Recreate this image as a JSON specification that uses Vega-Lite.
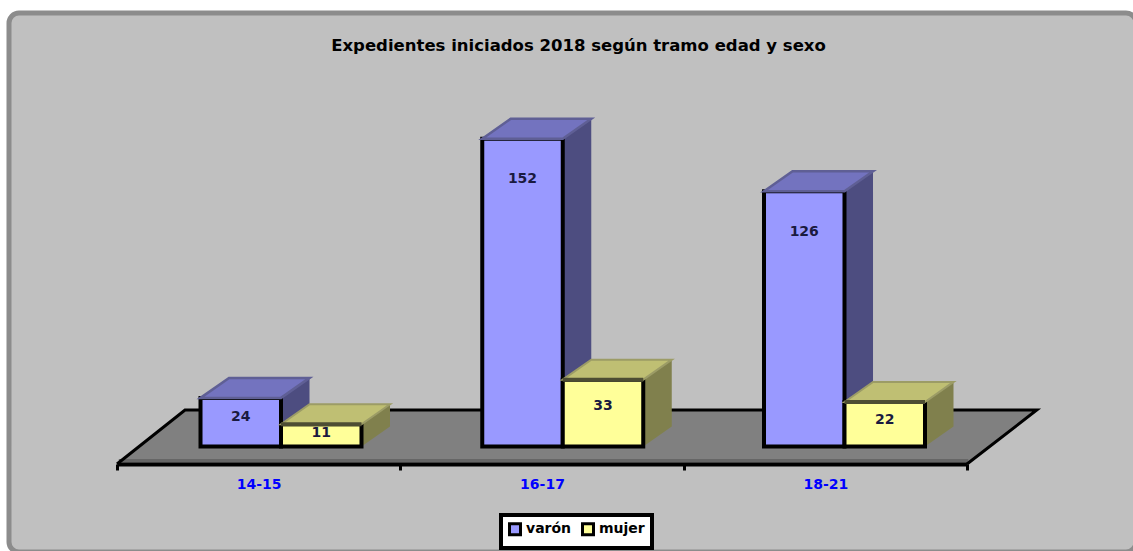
{
"$schema":"https://vega.github.io/schema/vega-lite/v6.json",
"width":1127,"height":539,
"autosize":{"type":"none"},
"padding":{"left":9,"top":13,"right":0,"bottom":0},
"background":"#ffffff",
"config":{"legend":{"strokeWidth":4}},
"view":{"fill":"#c0c0c0","stroke":"#8c8c8c","strokeWidth":5,"cornerRadius":10},
"title":{"text":"Expedientes iniciados 2018 según tramo edad y sexo","font":"DejaVu Sans","fontSize":16.5,"fontWeight":"bold","color":"#000000","anchor":"middle","dx":6,"offset":-41},
"datasets":{
"filas":[
{"tramo":"14-15","sexo":"varón","valor":24},
{"tramo":"14-15","sexo":"mujer","valor":11},
{"tramo":"16-17","sexo":"varón","valor":152},
{"tramo":"16-17","sexo":"mujer","valor":33},
{"tramo":"18-21","sexo":"varón","valor":126},
{"tramo":"18-21","sexo":"mujer","valor":22}
],
"suelo":[
{"u":-0.2963,"alto":-8.64,"bajo":-8.64,"orden":0},
{"u":-0.055,"alto":18,"bajo":-8.64,"orden":1},
{"u":2.7205,"alto":18,"bajo":-8.64,"orden":2},
{"u":2.968,"alto":18,"bajo":18,"orden":3}
],
"borde":[
{"u":-0.2963,"nivel":-8.64,"orden":0},
{"u":-0.055,"nivel":18,"orden":1},
{"u":2.968,"nivel":18,"orden":2},
{"u":2.7205,"nivel":-8.64,"orden":3}
],
"frente":[
{"u":-0.29,"nivel":-6.9},
{"u":2.725,"nivel":-6.9}
]
},
"layer":[
{"data":{"name":"suelo"},"mark":{"type":"area","color":"#808080","orient":"vertical"},
"encoding":{"x":{"field":"u","type":"quantitative","scale":{"domain":[-0.6797,3.3203]},"axis":null},
"y":{"field":"alto","type":"quantitative","scale":{"domain":[-52.1,214.07]},"axis":null,"stack":null},"y2":{"field":"bajo"}}},
{"data":{"name":"frente"},"mark":{"type":"line","color":"#666666","strokeWidth":3},
"encoding":{"x":{"field":"u","type":"quantitative","scale":{"domain":[-0.6797,3.3203]},"axis":null},
"y":{"field":"nivel","type":"quantitative","scale":{"domain":[-52.1,214.07]},"axis":null}}},
{"data":{"name":"borde"},"mark":{"type":"line","color":"#000000","strokeWidth":3},
"encoding":{"x":{"field":"u","type":"quantitative","scale":{"domain":[-0.6797,3.3203]},"axis":null},
"y":{"field":"nivel","type":"quantitative","scale":{"domain":[-52.1,214.07]},"axis":null},"order":{"field":"orden"}}},
{"data":{"name":"filas"},"mark":{"type":"point","opacity":0},
"encoding":{"x":{"field":"tramo","type":"nominal","scale":{"type":"band","range":[108,958],"paddingInner":0,"paddingOuter":0},
"axis":{"title":null,"orient":"bottom","offset":-88,"zindex":1,"labelAngle":0,"domainColor":"#000000","domainWidth":4,"tickColor":"#000000","tickWidth":3,"tickSize":6,"tickBand":"extent","labelColor":"#0000ff","labelFont":"DejaVu Sans","labelFontWeight":"bold","labelFontSize":14,"labelPadding":7}},
"y":{"field":"valor","type":"quantitative","scale":{"domain":[-52.1,214.07]},"axis":null}}},
{"data":{"name":"filas"},
"transform":[{"filter":"datum.sexo==='varón'"},
{"calculate":"indexof(['14-15','16-17','18-21'],datum.tramo)+0.2857","as":"der"},
{"calculate":"[0,1]","as":"p"},{"flatten":["p"]},
{"calculate":"datum.der+datum.p*0.1012","as":"xc"},
{"calculate":"datum.valor+datum.p*9.88","as":"ya"},
{"calculate":"datum.p*9.88","as":"yb"}],
"mark":{"type":"area","color":"#4d4d80","orient":"vertical"},
"encoding":{"x":{"field":"xc","type":"quantitative","scale":{"domain":[-0.6797,3.3203]},"axis":null},
"y":{"field":"ya","type":"quantitative","scale":{"domain":[-52.1,214.07]},"axis":null,"stack":null},"y2":{"field":"yb"},"detail":{"field":"tramo"}}},
{"data":{"name":"filas"},
"transform":[{"filter":"datum.sexo==='varón'"},
{"calculate":"indexof(['14-15','16-17','18-21'],datum.tramo)","as":"izq"},
{"calculate":"datum.izq+0.2857","as":"der"}],
"mark":{"type":"rect","stroke":"#000000","strokeWidth":4},
"encoding":{"x":{"field":"izq","type":"quantitative","scale":{"domain":[-0.6797,3.3203]},"axis":null},"x2":{"field":"der"},
"y":{"field":"valor","type":"quantitative","scale":{"domain":[-52.1,214.07]},"axis":null},"y2":{"datum":0},
"color":{"field":"sexo","type":"nominal","scale":{"domain":["varón","mujer"],"range":["#9999ff","#ffff99"]},
"legend":{"title":null,"orient":"none","legendX":492,"legendY":502,"direction":"horizontal","columns":2,"fillColor":"#ffffff","strokeColor":"#000000","padding":7,"symbolType":"square","symbolSize":121,"symbolStrokeColor":"#000000","symbolStrokeWidth":3,"labelFont":"DejaVu Sans","labelFontWeight":"bold","labelFontSize":14,"labelColor":"#000000","labelOffset":4,"columnPadding":4}}}},
{"data":{"name":"filas"},
"transform":[{"filter":"datum.sexo==='varón'"},
{"calculate":"indexof(['14-15','16-17','18-21'],datum.tramo)","as":"izq"},
{"calculate":"[0,1,2,3]","as":"q"},{"flatten":["q"]},
{"calculate":"datum.q<2?datum.izq+datum.q*0.1012:datum.izq+0.2857+(datum.q-2)*0.1012","as":"xc"},
{"calculate":"datum.q==0?datum.valor:datum.valor+9.88","as":"ya"},
{"calculate":"datum.q==3?datum.valor+9.88:datum.valor","as":"yb"}],
"mark":{"type":"area","color":"#7373bf","orient":"vertical","stroke":"#5f5f95","strokeWidth":2.5},
"encoding":{"x":{"field":"xc","type":"quantitative","scale":{"domain":[-0.6797,3.3203]},"axis":null},
"y":{"field":"ya","type":"quantitative","scale":{"domain":[-52.1,214.07]},"axis":null,"stack":null},"y2":{"field":"yb"},"detail":{"field":"tramo"}}},
{"data":{"name":"filas"},
"transform":[{"filter":"datum.sexo==='mujer'"},
{"calculate":"indexof(['14-15','16-17','18-21'],datum.tramo)+0.5714","as":"der"},
{"calculate":"[0,1]","as":"p"},{"flatten":["p"]},
{"calculate":"datum.der+datum.p*0.1012","as":"xc"},
{"calculate":"datum.valor+datum.p*9.88","as":"ya"},
{"calculate":"datum.p*9.88","as":"yb"}],
"mark":{"type":"area","color":"#80804d","orient":"vertical"},
"encoding":{"x":{"field":"xc","type":"quantitative","scale":{"domain":[-0.6797,3.3203]},"axis":null},
"y":{"field":"ya","type":"quantitative","scale":{"domain":[-52.1,214.07]},"axis":null,"stack":null},"y2":{"field":"yb"},"detail":{"field":"tramo"}}},
{"data":{"name":"filas"},
"transform":[{"filter":"datum.sexo==='mujer'"},
{"calculate":"indexof(['14-15','16-17','18-21'],datum.tramo)+0.2857","as":"izq"},
{"calculate":"datum.izq+0.2857","as":"der"}],
"mark":{"type":"rect","stroke":"#000000","strokeWidth":4},
"encoding":{"x":{"field":"izq","type":"quantitative","scale":{"domain":[-0.6797,3.3203]},"axis":null},"x2":{"field":"der"},
"y":{"field":"valor","type":"quantitative","scale":{"domain":[-52.1,214.07]},"axis":null},"y2":{"datum":0},
"color":{"field":"sexo","type":"nominal","scale":{"domain":["varón","mujer"],"range":["#9999ff","#ffff99"]}}}},
{"data":{"name":"filas"},
"transform":[{"filter":"datum.sexo==='mujer'"},
{"calculate":"indexof(['14-15','16-17','18-21'],datum.tramo)+0.2857","as":"izq"},
{"calculate":"[0,1,2,3]","as":"q"},{"flatten":["q"]},
{"calculate":"datum.q<2?datum.izq+datum.q*0.1012:datum.izq+0.2857+(datum.q-2)*0.1012","as":"xc"},
{"calculate":"datum.q==0?datum.valor:datum.valor+9.88","as":"ya"},
{"calculate":"datum.q==3?datum.valor+9.88:datum.valor","as":"yb"}],
"mark":{"type":"area","color":"#bfbf73","orient":"vertical","stroke":"#9c9c66","strokeWidth":2},
"encoding":{"x":{"field":"xc","type":"quantitative","scale":{"domain":[-0.6797,3.3203]},"axis":null},
"y":{"field":"ya","type":"quantitative","scale":{"domain":[-52.1,214.07]},"axis":null,"stack":null},"y2":{"field":"yb"},"detail":{"field":"tramo"}}},
{"data":{"name":"filas"},
"transform":[{"filter":"datum.sexo==='mujer'"},
{"calculate":"indexof(['14-15','16-17','18-21'],datum.tramo)+0.2857","as":"izq"},
{"calculate":"datum.izq+0.2857","as":"der"}],
"mark":{"type":"rule","color":"#4d4d33","strokeWidth":4},
"encoding":{"x":{"field":"izq","type":"quantitative","scale":{"domain":[-0.6797,3.3203]},"axis":null},"x2":{"field":"der"},
"y":{"field":"valor","type":"quantitative","scale":{"domain":[-52.1,214.07]},"axis":null}}},
{"data":{"name":"filas"},
"transform":[
{"calculate":"indexof(['14-15','16-17','18-21'],datum.tramo)+(datum.sexo==='mujer'?0.2857:0)+0.1428","as":"xc"},
{"calculate":"datum.valor-min(20,0.4*datum.valor)","as":"yt"}],
"mark":{"type":"text","font":"DejaVu Sans","fontWeight":"bold","fontSize":14,"color":"#1a1a40","baseline":"middle"},
"encoding":{"x":{"field":"xc","type":"quantitative","scale":{"domain":[-0.6797,3.3203]},"axis":null},
"y":{"field":"yt","type":"quantitative","scale":{"domain":[-52.1,214.07]},"axis":null},
"text":{"field":"valor","type":"quantitative"}}}
],
"resolve":{"scale":{"x":"independent"},"axis":{"x":"independent"}}
}
